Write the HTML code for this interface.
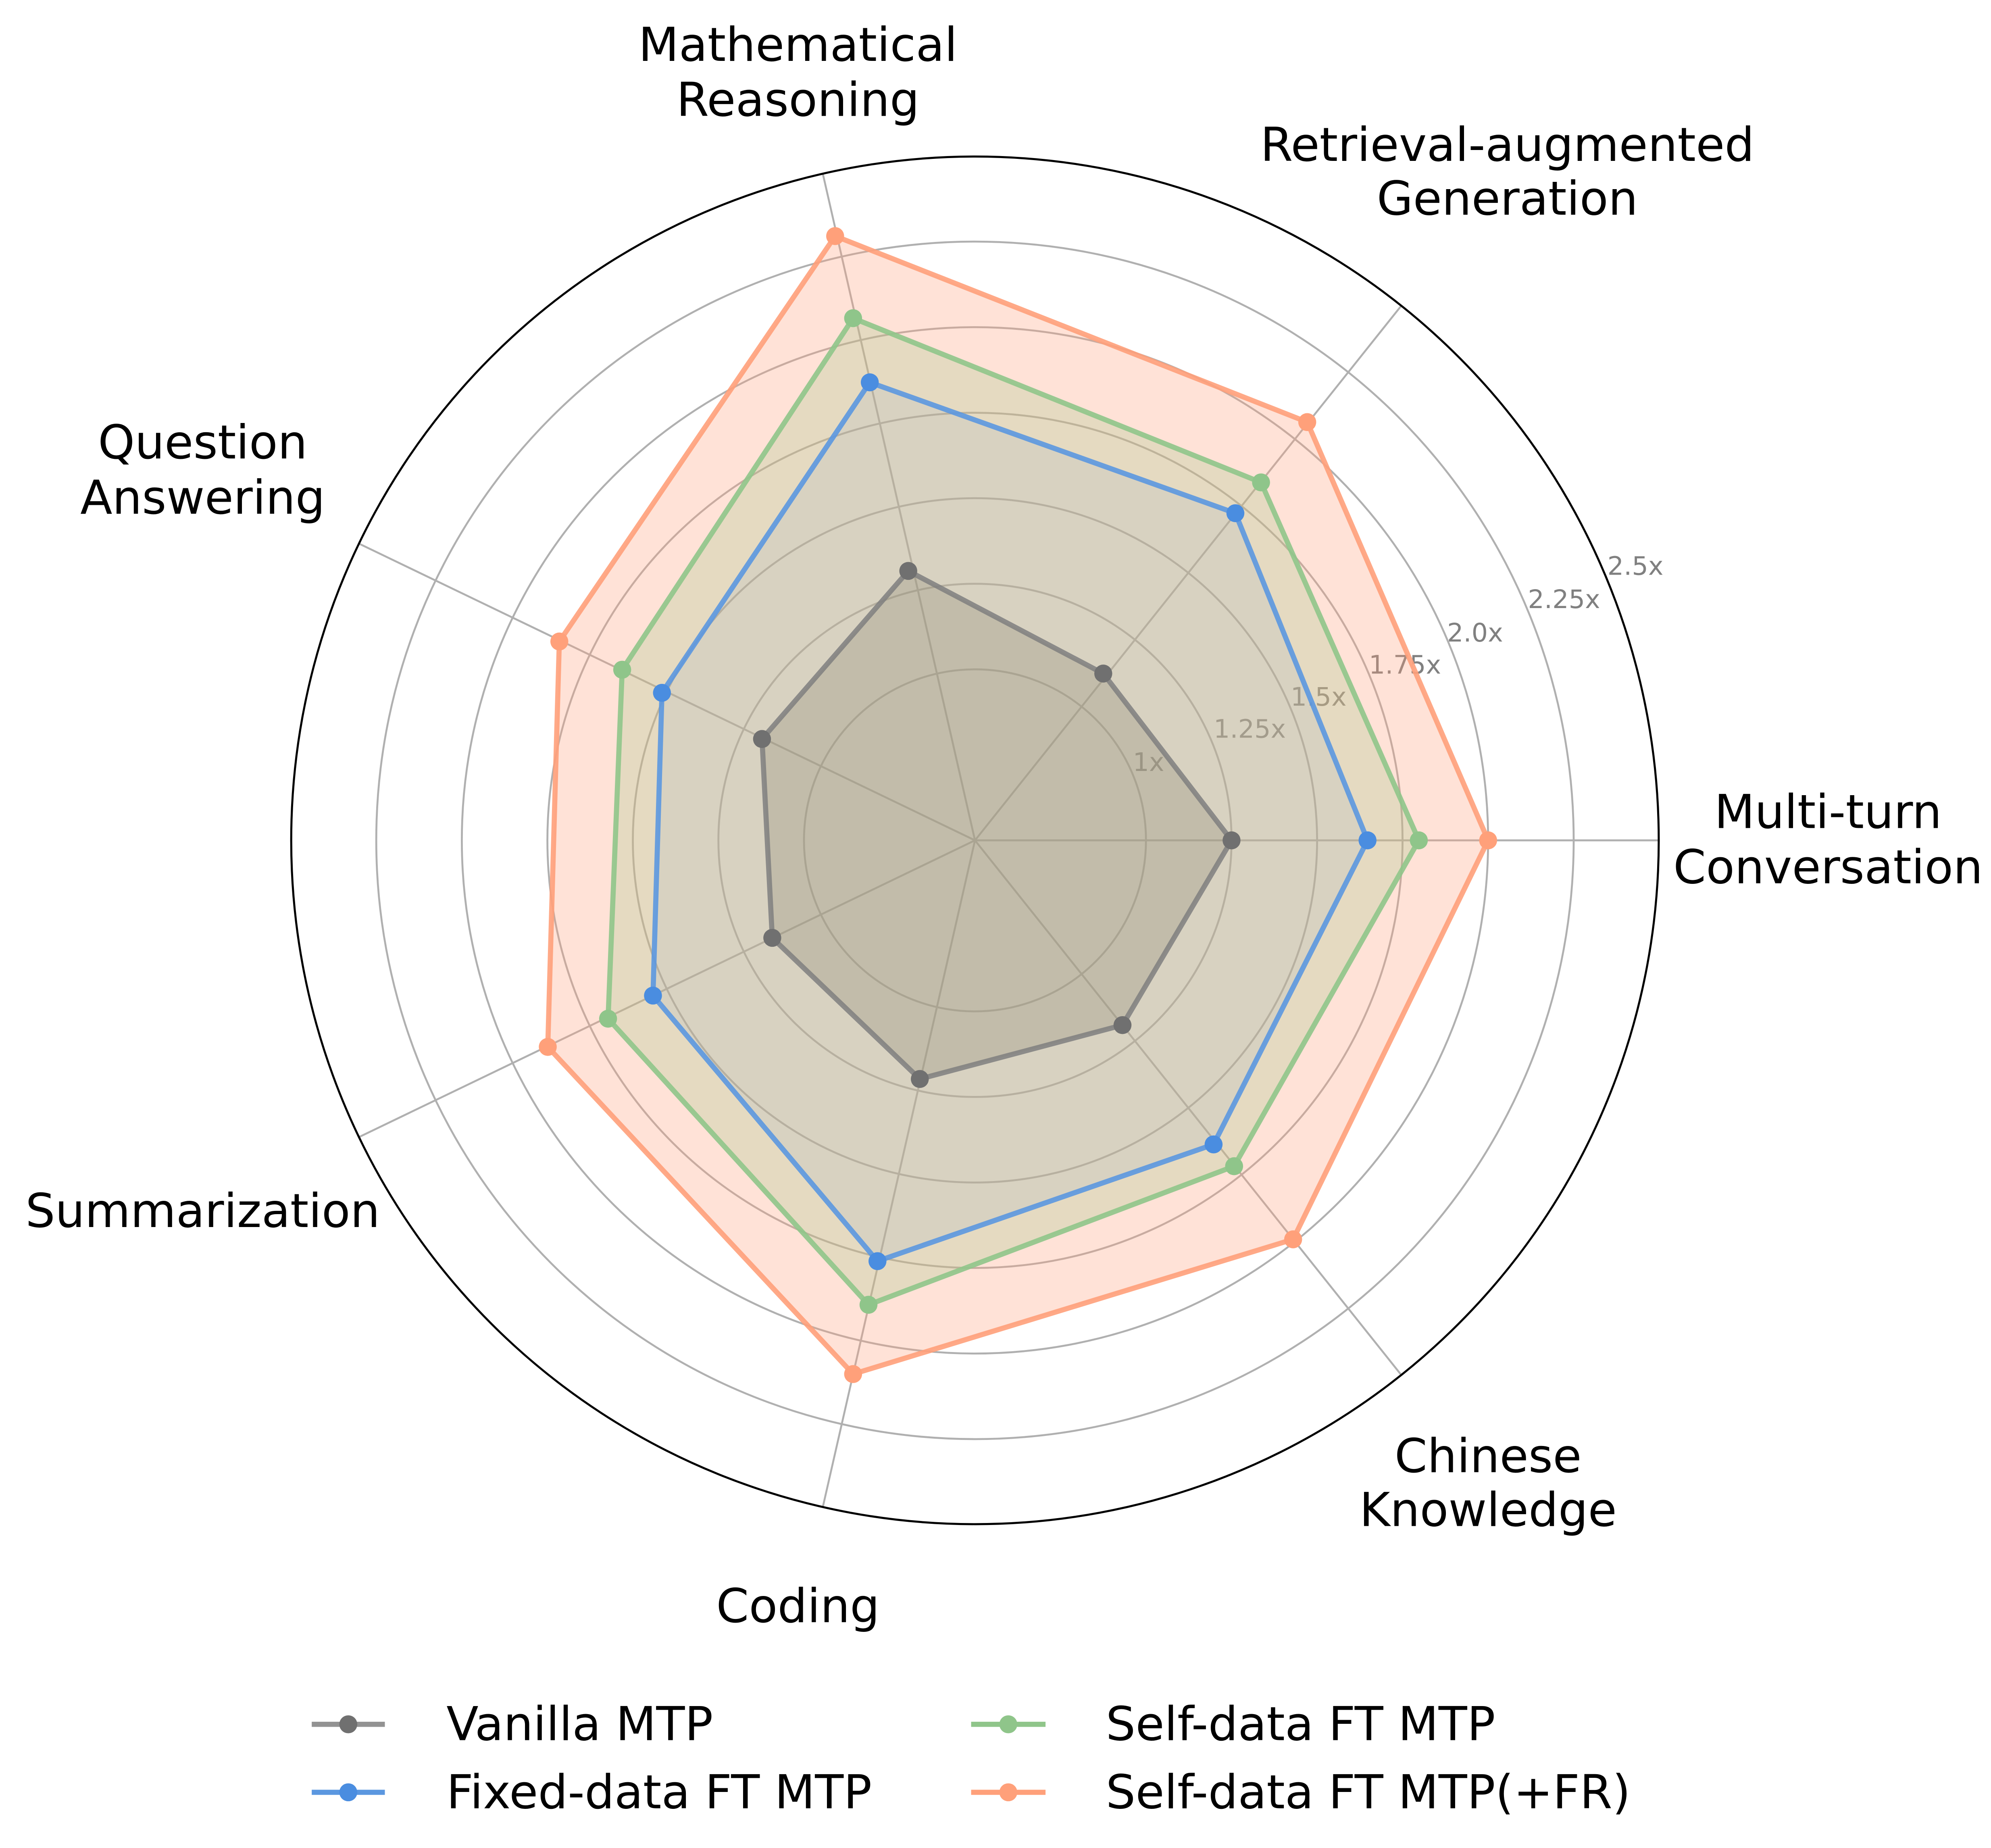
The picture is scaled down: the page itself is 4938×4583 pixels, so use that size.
<!DOCTYPE html>
<html><head><meta charset="utf-8"><style>html,body{margin:0;padding:0;background:#fff}svg{display:block}</style></head>
<body>
<svg width="4938" height="4583" viewBox="0 0 1552 1440.4" xmlns="http://www.w3.org/2000/svg" font-family="'DejaVu Sans','Liberation Sans',sans-serif">
<rect width="1552" height="1440.4" fill="#fff"/>
<g fill="none" stroke="#b0b0b0" stroke-width="1.5">
<circle cx="760" cy="655" r="133.3"/><circle cx="760" cy="655" r="200"/><circle cx="760" cy="655" r="266.7"/><circle cx="760" cy="655" r="333.3"/><circle cx="760" cy="655" r="400"/><circle cx="760" cy="655" r="466.7"/>
<line x1="760" y1="655" x2="1293" y2="655"/>
<line x1="760" y1="655" x2="1092.3" y2="238.3"/>
<line x1="760" y1="655" x2="641.4" y2="135.4"/>
<line x1="760" y1="655" x2="279.8" y2="423.7"/>
<line x1="760" y1="655" x2="279.8" y2="886.3"/>
<line x1="760" y1="655" x2="641.4" y2="1174.6"/>
<line x1="760" y1="655" x2="1092.3" y2="1071.7"/>
</g>
<circle cx="760" cy="655" r="533" fill="none" stroke="#000" stroke-width="1.6"/>
<g font-size="20" fill="#808080">
<text x="883" y="601">1x</text><text x="946" y="575">1.25x</text><text x="1006" y="550">1.5x</text><text x="1067" y="525">1.75x</text><text x="1128" y="500">2.0x</text><text x="1191" y="474">2.25x</text><text x="1253" y="448">2.5x</text>
</g>
<g stroke-width="4" stroke-linejoin="round">
<polygon points="1160,655 1019,329 651,184 436,500 427,816 665,1071 1008,966" fill="#ffa07a" fill-opacity="0.3" stroke="#ffa07a" stroke-opacity="0.9"/>
<polygon points="1106,655 983,376 665,248 485,522 474,794 677,1017 962,909" fill="#a8c890" fill-opacity="0.3" stroke="#8fc58a" stroke-opacity="0.9"/>
<polygon points="1066,655 963,400 678,298 516,540 509,776 684,983 946,892" fill="#8fa6c8" fill-opacity="0.14" stroke="#5b97e0" stroke-opacity="0.9"/>
<polygon points="960,655 860,525 708,445 594,576 602,731 717,841 875,799" fill="#8a8570" fill-opacity="0.28" stroke="#7f7f7f" stroke-opacity="0.85"/>
</g>
<g fill="#ffa07a"><circle cx="1160" cy="655" r="7"/><circle cx="1019" cy="329" r="7"/><circle cx="651" cy="184" r="7"/><circle cx="436" cy="500" r="7"/><circle cx="427" cy="816" r="7"/><circle cx="665" cy="1071" r="7"/><circle cx="1008" cy="966" r="7"/></g>
<g fill="#8fc58a"><circle cx="1106" cy="655" r="7"/><circle cx="983" cy="376" r="7"/><circle cx="665" cy="248" r="7"/><circle cx="485" cy="522" r="7"/><circle cx="474" cy="794" r="7"/><circle cx="677" cy="1017" r="7"/><circle cx="962" cy="909" r="7"/></g>
<g fill="#4a8de0"><circle cx="1066" cy="655" r="7"/><circle cx="963" cy="400" r="7"/><circle cx="678" cy="298" r="7"/><circle cx="516" cy="540" r="7"/><circle cx="509" cy="776" r="7"/><circle cx="684" cy="983" r="7"/><circle cx="946" cy="892" r="7"/></g>
<g fill="#707070"><circle cx="960" cy="655" r="7"/><circle cx="860" cy="525" r="7"/><circle cx="708" cy="445" r="7"/><circle cx="594" cy="576" r="7"/><circle cx="602" cy="731" r="7"/><circle cx="717" cy="841" r="7"/><circle cx="875" cy="799" r="7"/></g>
<g font-size="36.5" fill="#000" text-anchor="middle" dominant-baseline="central">
<text x="1425" y="633">Multi-turn</text><text x="1425" y="676">Conversation</text>
<text x="1175" y="113">Retrieval-augmented</text><text x="1175" y="155">Generation</text>
<text x="622" y="35">Mathematical</text><text x="622" y="78">Reasoning</text>
<text x="158" y="345">Question</text><text x="158" y="388">Answering</text>
<text x="158" y="944">Summarization</text>
<text x="622" y="1252">Coding</text>
<text x="1160" y="1135">Chinese</text><text x="1160" y="1177">Knowledge</text>
</g>
<g stroke-width="4">
<line x1="243" y1="1344" x2="300" y2="1344" stroke="#7f7f7f" stroke-opacity="0.85"/><circle cx="271.5" cy="1344" r="7" fill="#707070"/>
<line x1="243" y1="1397" x2="300" y2="1397" stroke="#5b97e0"/><circle cx="271.5" cy="1397" r="7" fill="#4a8de0"/>
<line x1="757" y1="1344" x2="815" y2="1344" stroke="#8fc58a"/><circle cx="786" cy="1344" r="7" fill="#8fc58a"/>
<line x1="757" y1="1397" x2="815" y2="1397" stroke="#ffa07a"/><circle cx="786" cy="1397" r="7" fill="#ffa07a"/>
</g>
<g font-size="36.5" fill="#000" dominant-baseline="central">
<text x="348" y="1344">Vanilla MTP</text><text x="348" y="1397">Fixed-data FT MTP</text>
<text x="862" y="1344">Self-data FT MTP</text><text x="862" y="1397">Self-data FT MTP(+FR)</text>
</g>
</svg>
</body></html>
